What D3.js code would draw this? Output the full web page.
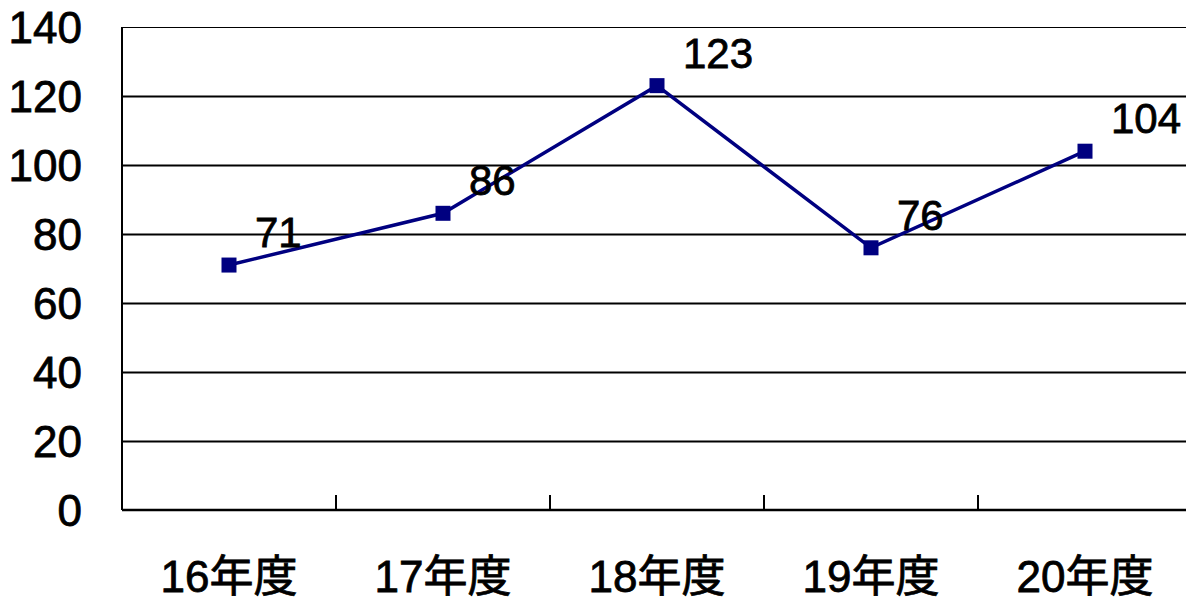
<!DOCTYPE html>
<html>
<head>
<meta charset="utf-8">
<script src="https://cdn.jsdelivr.net/npm/d3@7"></script>
<style>
  html, body { margin: 0; padding: 0; background: #fff; }
  svg { display: block; }
  text { font-family: "Liberation Sans", Arial, "Noto Sans CJK JP", sans-serif; fill: #000; stroke: #000; stroke-width: 0.8px; }
</style>
</head>
<body>
<svg id="chart" width="1186" height="601"></svg>
<script>
// Yearly counts, fiscal years 16–20
const categories = ["16年度", "17年度", "18年度", "19年度", "20年度"];
const values = [71, 86, 123, 76, 104];
const yTicks = [0, 20, 40, 60, 80, 100, 120, 140];

const svg = d3.select("#chart");
const plotLeft = 122, plotRight = 1192, plotTop = 27, plotBottom = 510;

const x = d3.scaleBand().domain(categories).range([plotLeft, plotRight]).padding(0);
const y = d3.scaleLinear().domain([0, 140]).range([plotBottom, plotTop]);

// horizontal gridlines
const grid = svg.append("g")
  .attr("transform", `translate(${plotLeft},0)`)
  .call(d3.axisRight(y).tickValues(yTicks.slice(1)).tickSize(plotRight - plotLeft).tickFormat(""));
grid.select(".domain").remove();
grid.selectAll("line")
  .attr("stroke", "#000")
  .attr("stroke-width", d => d === 140 ? 1.2 : 2);

// y tick labels
const yAxis = svg.append("g")
  .attr("transform", `translate(${plotLeft},0)`)
  .call(d3.axisLeft(y).tickValues(yTicks).tickSize(0).tickPadding(40));
yAxis.select(".domain").remove();
yAxis.selectAll("text")
  .attr("font-size", 44)
  .attr("dy", "0.36em")
  .attr("fill", "#000")
  .style("font-family", '"Liberation Sans", Arial, sans-serif');

// y axis line
svg.append("line")
  .attr("x1", plotLeft).attr("x2", plotLeft)
  .attr("y1", y(140)).attr("y2", y(0))
  .attr("stroke", "#000").attr("stroke-width", 2);

// x axis with inward ticks at category boundaries
const boundaries = categories.map(c => x(c)).concat([plotRight]);
svg.append("line")
  .attr("x1", plotLeft).attr("x2", plotRight)
  .attr("y1", y(0)).attr("y2", y(0))
  .attr("stroke", "#000").attr("stroke-width", 2.5);
svg.append("g").selectAll("line")
  .data(boundaries)
  .join("line")
  .attr("x1", d => d).attr("x2", d => d)
  .attr("y1", y(0)).attr("y2", y(0) - 15)
  .attr("stroke", "#000").attr("stroke-width", 2);

// category labels
svg.append("g").selectAll("text")
  .data(categories)
  .join("text")
  .attr("x", d => x(d) + x.bandwidth() / 2)
  .attr("y", 592)
  .attr("text-anchor", "middle")
  .attr("font-size", 44)
  .text(d => d);

const cx = (d, i) => x(categories[i]) + x.bandwidth() / 2;

// series line
svg.append("path")
  .datum(values)
  .attr("fill", "none")
  .attr("stroke", "#000080")
  .attr("stroke-width", 3.5)
  .attr("d", d3.line().x(cx).y(d => y(d)));

// square markers
svg.append("g").selectAll("rect")
  .data(values)
  .join("rect")
  .attr("x", (d, i) => cx(d, i) - 7.5)
  .attr("y", d => y(d) - 7.5)
  .attr("width", 15).attr("height", 15)
  .attr("fill", "#000080");

// value labels
svg.append("g").selectAll("text")
  .data(values)
  .join("text")
  .attr("x", (d, i) => cx(d, i) + 26)
  .attr("y", d => y(d) - 18)
  .attr("font-size", 42)
  .text(d => d);
</script>
</body>
</html>
